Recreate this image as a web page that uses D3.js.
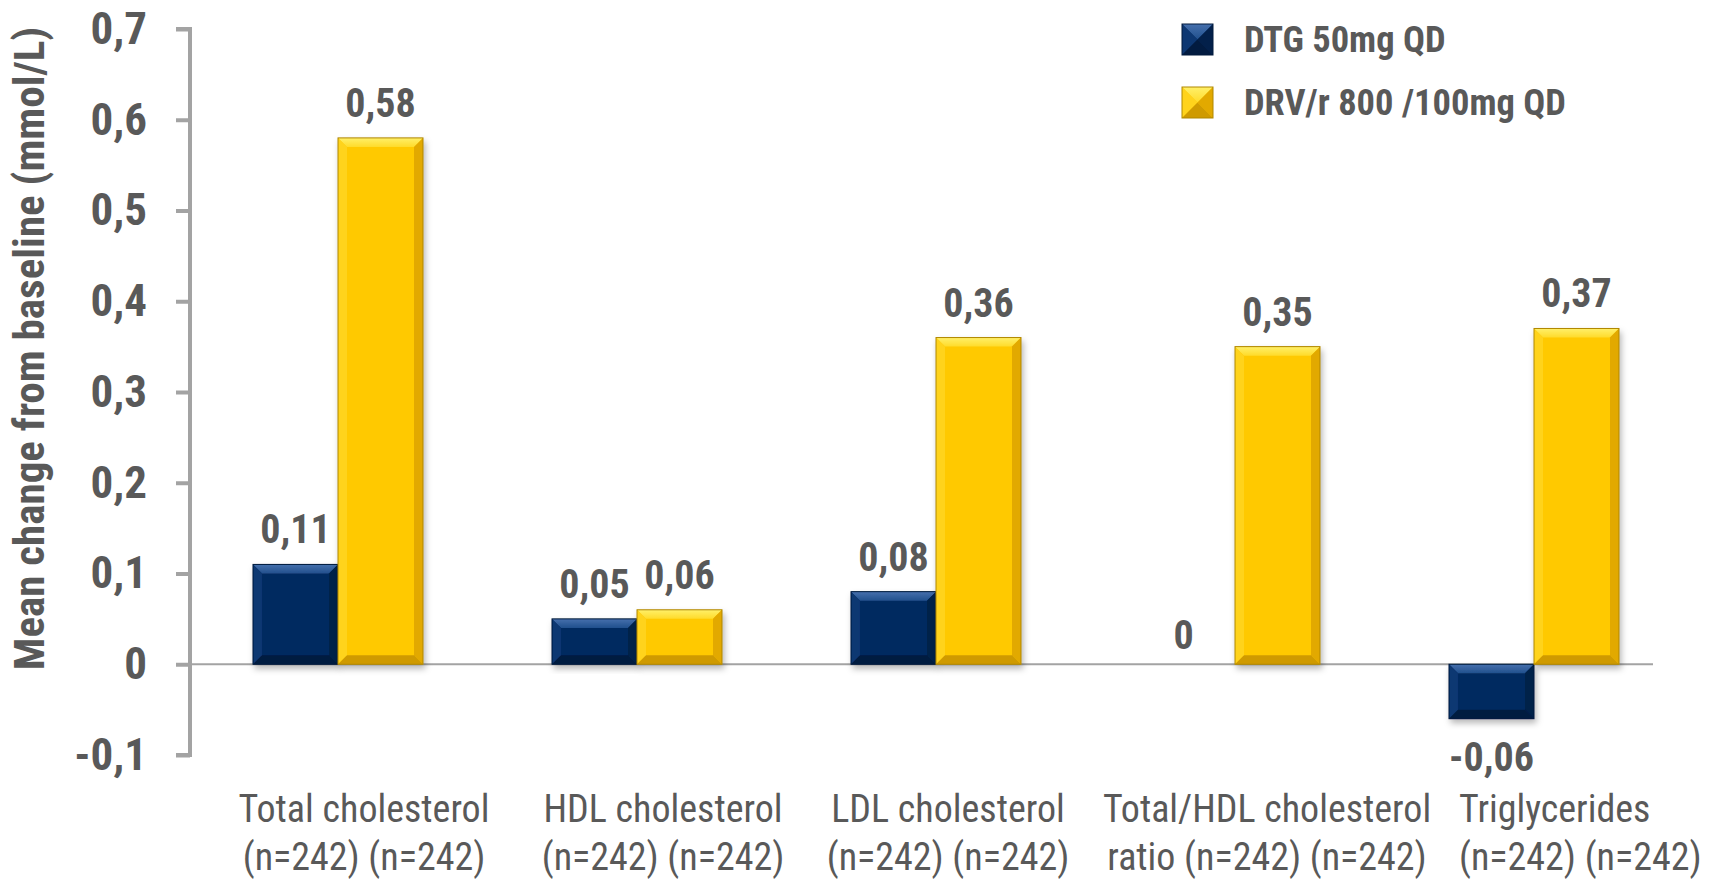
<!DOCTYPE html>
<html>
<head>
<meta charset="utf-8">
<script src="https://cdn.jsdelivr.net/npm/d3@7"></script>
<style>
  html, body { margin: 0; padding: 0; background: #ffffff; }
  svg { display: block; }
  text { font-family: "Liberation Sans Narrow", "Arial Narrow", "Roboto Condensed", "Liberation Sans", sans-serif; fill: #595959; }
</style>
</head>
<body>
<svg id="chart" width="1721" height="885"></svg>
<script>
// Lipid parameters: mean change from baseline (mmol/L)
const categories = ["Total cholesterol", "HDL cholesterol", "LDL cholesterol", "Total/HDL cholesterol ratio", "Triglycerides"];
const categoryLines = [
  ["Total cholesterol", "(n=242) (n=242)"],
  ["HDL cholesterol", "(n=242) (n=242)"],
  ["LDL cholesterol", "(n=242) (n=242)"],
  ["Total/HDL cholesterol", "ratio (n=242) (n=242)"],
  ["Triglycerides", "(n=242) (n=242)"]
];
const seriesNames = ["DTG 50mg QD", "DRV/r 800 /100mg QD"];
const dtgValues = [0.11, 0.05, 0.08, 0, -0.06];
const drvValues = [0.58, 0.06, 0.36, 0.35, 0.37];
const yTickValues = [-0.1, 0, 0.1, 0.2, 0.3, 0.4, 0.5, 0.6, 0.7];

// Category label placement (text boxes sit slightly right of each group)
const labelLayout = [
  { dx: 26, anchor: "middle" },
  { dx: 26, anchor: "middle" },
  { dx: 12, anchor: "middle" },
  { dx: 32, anchor: "middle" },
  { dx: -75, anchor: "start" }
];

const palettes = [
  { base: "#062b60", top: "#4670ad", topEnd: "#21508d", left: "#0d3772", right: "#03204a", bottom: "#021b40", stroke: "#021a3d" },
  { base: "#ffc906", top: "#fff06a", topEnd: "#ffdb2a", left: "#ffd31c", right: "#e2a900", bottom: "#cf9a00", stroke: "#b08700" }
];

const series = seriesNames.map((name, i) => ({ name, values: i === 0 ? dtgValues : drvValues, palette: palettes[i] }));

const svg = d3.select("#chart");

const y = d3.scaleLinear().domain([-0.1, 0.7]).range([755, 29]);
const x0 = d3.scaleBand().domain(categories).range([188.5, 1683.5]).paddingInner(0.4314).paddingOuter(0.2157);
const x1 = d3.scaleBand().domain(seriesNames).range([0, x0.bandwidth()]).padding(0);

const locale = d3.formatLocale({ decimal: ",", thousands: ".", grouping: [3], currency: ["", ""], minus: "-" });
const tickFmt = locale.format(".1~f");
const valFmt = locale.format(".2~f");

const defs = svg.append("defs");
const shadow = defs.append("filter").attr("id", "barShadow").attr("x", "-20%").attr("y", "-20%").attr("width", "140%").attr("height", "140%");
shadow.append("feDropShadow").attr("dx", 2).attr("dy", 4).attr("stdDeviation", 3).attr("flood-color", "#000").attr("flood-opacity", 0.28);

palettes.forEach((p, i) => {
  const g = defs.append("linearGradient").attr("id", "topGrad" + i).attr("x1", 0).attr("y1", 0).attr("x2", 0).attr("y2", 1);
  g.append("stop").attr("offset", "0%").attr("stop-color", p.top);
  g.append("stop").attr("offset", "100%").attr("stop-color", p.topEnd);
});

// Zero baseline
svg.append("line")
  .attr("x1", 190).attr("x2", 1653)
  .attr("y1", y(0)).attr("y2", y(0))
  .attr("stroke", "#a3a3a3").attr("stroke-width", 2);

// Y axis
const yAxis = d3.axisLeft(y).tickValues(yTickValues).tickSize(14).tickPadding(29).tickFormat(tickFmt);
const ag = svg.append("g").attr("transform", "translate(190,0)").call(yAxis);
ag.select(".domain").attr("stroke", "#a3a3a3").attr("stroke-width", 4).attr("d", `M-14,${y(0.7)}H0V${y(-0.1)}H-14`);
ag.selectAll(".tick line").attr("stroke", "#a3a3a3").attr("stroke-width", 4);
ag.selectAll(".tick text")
  .attr("font-size", 45).attr("font-weight", "bold")
  .style("font-family", '"Liberation Sans Narrow", "Arial Narrow", "Roboto Condensed", sans-serif')
  .attr("fill", "#595959");

// Y axis title
svg.append("text")
  .attr("transform", `translate(44,${(33 + 664) / 2}) rotate(-90)`)
  .attr("text-anchor", "middle")
  .attr("font-size", 43).attr("font-weight", "bold")
  .text("Mean change from baseline (mmol/L)");

// Beveled bar drawing
function bevelBar(g, xa, xb, ya, yb, p, i, bevelMax) {
  const b = Math.min(bevelMax, (yb - ya) / 2, (xb - xa) / 2);
  const pts = arr => arr.map(d => d.join(",")).join(" ");
  g.append("rect").attr("x", xa).attr("y", ya).attr("width", xb - xa).attr("height", yb - ya).attr("fill", p.base);
  g.append("polygon").attr("points", pts([[xa, ya], [xb, ya], [xb - b, ya + b], [xa + b, ya + b]])).attr("fill", `url(#topGrad${i})`);
  g.append("polygon").attr("points", pts([[xa, ya], [xa + b, ya + b], [xa + b, yb - b], [xa, yb]])).attr("fill", p.left);
  g.append("polygon").attr("points", pts([[xb, ya], [xb - b, ya + b], [xb - b, yb - b], [xb, yb]])).attr("fill", p.right);
  g.append("polygon").attr("points", pts([[xa, yb], [xb, yb], [xb - b, yb - b], [xa + b, yb - b]])).attr("fill", p.bottom);
  g.append("rect").attr("x", xa).attr("y", ya).attr("width", xb - xa).attr("height", yb - ya)
    .attr("fill", "none").attr("stroke", p.stroke).attr("stroke-width", 1);
}

// Bars
const barLayer = svg.append("g");
series.forEach((s, si) => {
  s.values.forEach((v, ci) => {
    if (v === 0) return;
    const xa = x0(categories[ci]) + x1(s.name);
    const xb = xa + x1.bandwidth();
    const ya = y(Math.max(0, v));
    const yb = y(Math.min(0, v));
    const g = barLayer.append("g").attr("filter", "url(#barShadow)");
    bevelBar(g, xa, xb, ya, yb, s.palette, si, 9);
  });
});

// Value labels
series.forEach(s => {
  s.values.forEach((v, ci) => {
    const cx = x0(categories[ci]) + x1(s.name) + x1.bandwidth() / 2;
    const yPos = v < 0 ? y(v) + 52 : y(v) - 21;
    svg.append("text")
      .attr("x", v === 0 ? cx - 9 : cx)
      .attr("y", v === 0 ? yPos + 6 : yPos)
      .attr("text-anchor", "middle")
      .attr("font-size", 40).attr("font-weight", "bold")
      .text(valFmt(v));
  });
});

// Category labels
categoryLines.forEach((lines, ci) => {
  const cx = x0(categories[ci]) + x0.bandwidth() / 2 + labelLayout[ci].dx;
  lines.forEach((line, li) => {
    svg.append("text")
      .attr("x", cx)
      .attr("y", 822 + li * 48)
      .attr("text-anchor", labelLayout[ci].anchor)
      .attr("font-size", 38)
      .text(line);
  });
});

// Legend
const legend = svg.append("g").attr("transform", "translate(1182,24)");
series.forEach((s, i) => {
  const g = legend.append("g").attr("transform", `translate(0,${i * 63})`);
  bevelBar(g, 0, 31, 0, 31, s.palette, i, 15.5);
  g.append("text")
    .attr("x", 62).attr("y", 28)
    .attr("font-size", 36.5).attr("font-weight", "bold")
    .text(s.name);
});
</script>
</body>
</html>
